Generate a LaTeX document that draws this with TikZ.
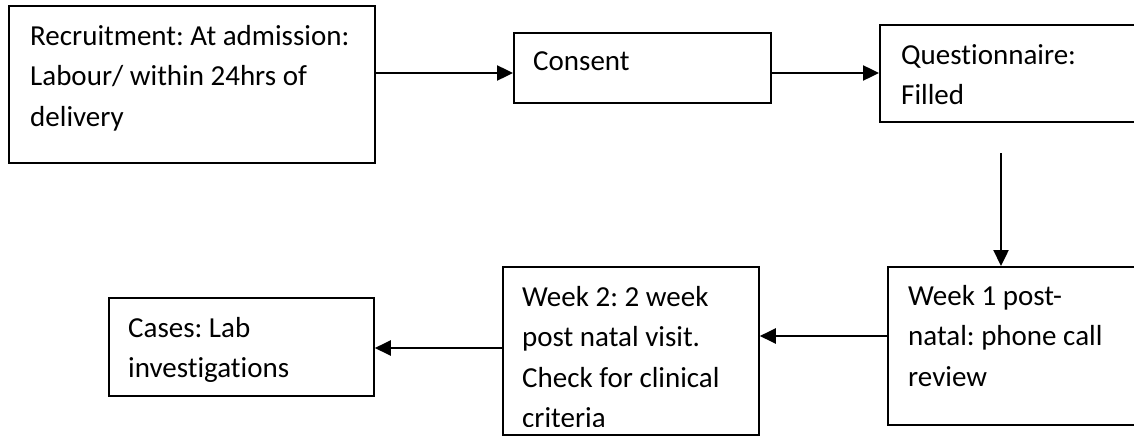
\documentclass[tikz,border=0pt]{standalone}
\usepackage{fontspec}
\setmainfont{Carlito}[Ligatures=NoCommon]
\usetikzlibrary{arrows.meta}
\newcommand{\fstrut}{\rule{0pt}{24pt}}
\frenchspacing
\begin{document}
\begin{tikzpicture}[x=1pt,y=-1pt,
  boxnode/.style={draw=black,line width=1.8pt,rectangle,inner sep=0pt,anchor=north west},
  txt/.style={font=\fontsize{29}{40.5}\selectfont\frenchspacing,inner sep=0pt,anchor=north west,align=left,text=black},
  arr/.style={line width=2.4pt,-{Triangle[length=16pt,width=15pt]}}]
\useasboundingbox (0,0) rectangle (1134,436);
\fill[white] (0,0) rectangle (1134,436);
% boxes
\node[boxnode,minimum width=366pt,minimum height=157pt] (b1) at (8,5) {};
\node[boxnode,minimum width=257pt,minimum height=70pt] (b2) at (513,32) {};
\node[boxnode,minimum width=300pt,minimum height=97pt] (b3) at (879,24) {};
\node[boxnode,minimum width=300pt,minimum height=158pt] (b4) at (887,266) {};
\node[boxnode,minimum width=256pt,minimum height=168pt] (b5) at (502,266) {};
\node[boxnode,minimum width=265pt,minimum height=98pt] (b6) at (108,297) {};
% texts
\node[txt] (t1) at (30,21) {\fstrut Recruitment: At admission:\\Labour/ within 24hrs of\\delivery};
\node[txt] (t2) at (533,46) {\fstrut Consent};
\node[txt] (t3) at (901,40) {\fstrut Questionnaire:\\Filled};
\node[txt] (t4) at (908,281) {\fstrut Week 1 post-\\natal: phone call\\review};
\begin{scope}
\clip (b5.north west) rectangle ([yshift=9pt]b5.south east);
\node[txt] (t5) at (522,282) {\fstrut Week 2: 2 week\\post natal visit.\\Check for clinical\\criteria};
\end{scope}
\node[txt] (t6) at (128,313) {\fstrut Cases: Lab\\investigations};
% connectors
\draw[arr] (b1.east |- 0,73) -- (b2.west |- 0,73);
\draw[arr] (b2.east |- 0,73) -- (b3.west |- 0,73);
\coordinate (q) at (1001,153);
\draw[arr] (q) -- (q |- b4.north);
\draw[arr] (b4.west |- 0,336) -- (b5.east |- 0,336);
\draw[arr] (b5.west |- 0,348) -- (b6.east |- 0,348);
\end{tikzpicture}
\end{document}
